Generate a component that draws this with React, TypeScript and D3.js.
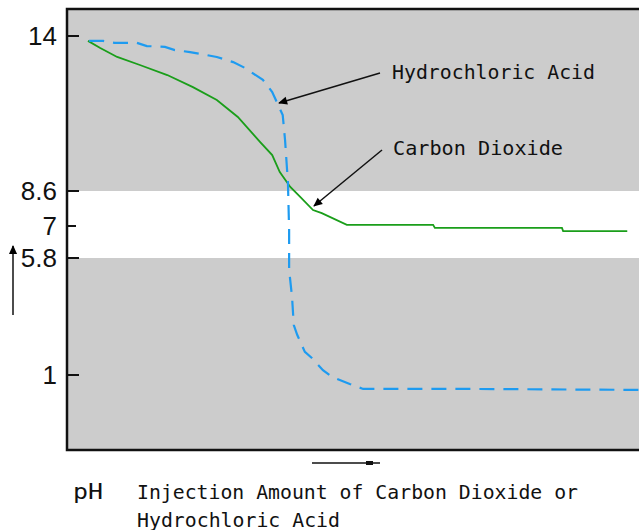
import React from 'react'
import * as d3 from 'd3'

// pH ticks drawn on the left axis (schematic, not evenly spaced)
const phTicks = [14, 8.6, 7, 5.8, 1]
const tickLength = [12, 12, 9, 12, 12]

// injection amount (0-100, arbitrary units) vs pH
const co2Amount = [3.6, 5.7, 8.6, 12.5, 17.2, 21.6, 25.7, 29.3, 33.1, 35.2, 36.5, 38.3, 40.0, 42.2, 43.7, 48.0, 62.8, 63.1, 84.9, 85.1, 96.1]
const co2Ph = [13.83, 13.58, 13.27, 12.99, 12.64, 12.22, 11.77, 11.18, 10.31, 9.85, 9.26, 8.74, 8.33, 7.73, 7.59, 7.05, 7.05, 6.93, 6.93, 6.81, 6.81]

const hclAmount = [3.8, 6.2, 8.2, 12.0, 13.7, 16.8, 18.5, 21.1, 25.7, 28.5, 30.5, 33.6, 35.2, 36.2, 37.0, 37.4, 37.9, 38.1, 38.1, 38.6, 38.9, 39.5, 40.8, 42.0, 43.9, 45.5, 48.5, 50.8, 69.1, 98.1]
const hclPh = [13.83, 13.83, 13.76, 13.76, 13.65, 13.62, 13.51, 13.44, 13.27, 13.09, 12.89, 12.47, 12.05, 11.6, 11.25, 10.38, 8.88, 6.85, 5.31, 4.2, 3.05, 2.64, 1.95, 1.7, 1.2, 0.92, 0.63, 0.43, 0.43, 0.39]

const bandTop = 8.6
const bandBottom = 5.8

const width = 639
const height = 530

export default function App() {
  const x = d3.scaleLinear().domain([0, 100]).range([67, 650])
  // piecewise scale: the picture is a sketch, the pH axis is not linear
  const y = d3
    .scaleLinear()
    .domain([-2.07, 1, 5.8, 7, 8.6, 14, 14.94])
    .range([450, 375, 258, 226, 191, 36, 9])

  const line = d3
    .line<[number, number]>()
    .x((d) => x(d[0]))
    .y((d) => y(d[1]))

  const co2 = co2Amount.map((a, i) => [a, co2Ph[i]] as [number, number])
  const hcl = hclAmount.map((a, i) => [a, hclPh[i]] as [number, number])

  const left = x(0)
  const top = y(14.94)
  const bottom = y(-2.07)
  const right = x(100)

  const mono = '"DejaVu Sans Mono", monospace'

  return (
    <svg
      width={width}
      height={height}
      style={{ position: 'absolute', left: 0, top: 0, background: '#fff' }}
    >
      <defs>
        <marker id="head" viewBox="0 0 10 10" refX="9" refY="5" markerWidth="14" markerHeight="9" orient="auto" markerUnits="userSpaceOnUse">
          <path d="M0,0.5 L10,5 L0,9.5 Z" fill="#000" />
        </marker>
      </defs>

      <rect x={left} y={top} width={right - left} height={bottom - top} fill="#cccccc" />
      <rect x={left} y={y(bandTop)} width={right - left} height={y(bandBottom) - y(bandTop)} fill="#ffffff" />

      <path d={line(co2) ?? ''} fill="none" stroke="#1a9e1a" strokeWidth={1.8} />
      <path d={line(hcl) ?? ''} fill="none" stroke="#1e9bf0" strokeWidth={2.2} strokeDasharray="15 9" />

      <rect x={left} y={top} width={right - left + 10} height={bottom - top} fill="none" stroke="#111" strokeWidth={2.5} />

      {phTicks.map((t, i) => (
        <g key={t}>
          <line x1={left} x2={left + tickLength[i]} y1={y(t)} y2={y(t)} stroke="#111" strokeWidth={2} />
          <text
            x={57}
            y={y(t)}
            dy="0.36em"
            textAnchor="end"
            fontFamily='"Liberation Sans", Arial, sans-serif'
            fontSize={26}
            fill="#111"
          >
            {t}
          </text>
        </g>
      ))}

      {/* annotations */}
      <line x1={380} y1={73} x2={279} y2={103} stroke="#111" strokeWidth={1.5} markerEnd="url(#head)" />
      <text x={392} y={79} fontFamily={mono} fontSize={19} fill="#111" textLength={203} lengthAdjust="spacingAndGlyphs">
        Hydrochloric Acid
      </text>
      <line x1={382} y1={150} x2={314} y2={206} stroke="#111" strokeWidth={1.5} markerEnd="url(#head)" />
      <text x={393} y={155} fontFamily={mono} fontSize={19} fill="#111" textLength={170} lengthAdjust="spacingAndGlyphs">
        Carbon Dioxide
      </text>

      {/* pH arrow on the left */}
      <line x1={13} y1={315} x2={13} y2={246} stroke="#111" strokeWidth={1.5} markerEnd="url(#head)" />
      {/* injection arrow under the plot */}
      <line x1={312} y1={463} x2={380} y2={463} stroke="#111" strokeWidth={1.5} />
      <rect x={366} y={461} width={7} height={4} fill="#111" />

      <text x={73} y={499} fontFamily={mono} fontSize={22} fill="#111" textLength={30} lengthAdjust="spacingAndGlyphs">
        pH
      </text>
      <text x={137} y={499} fontFamily={mono} fontSize={19} fill="#111" textLength={441} lengthAdjust="spacingAndGlyphs">
        Injection Amount of Carbon Dioxide or
      </text>
      <text x={137} y={527} fontFamily={mono} fontSize={19} fill="#111" textLength={203} lengthAdjust="spacingAndGlyphs">
        Hydrochloric Acid
      </text>
    </svg>
  )
}
